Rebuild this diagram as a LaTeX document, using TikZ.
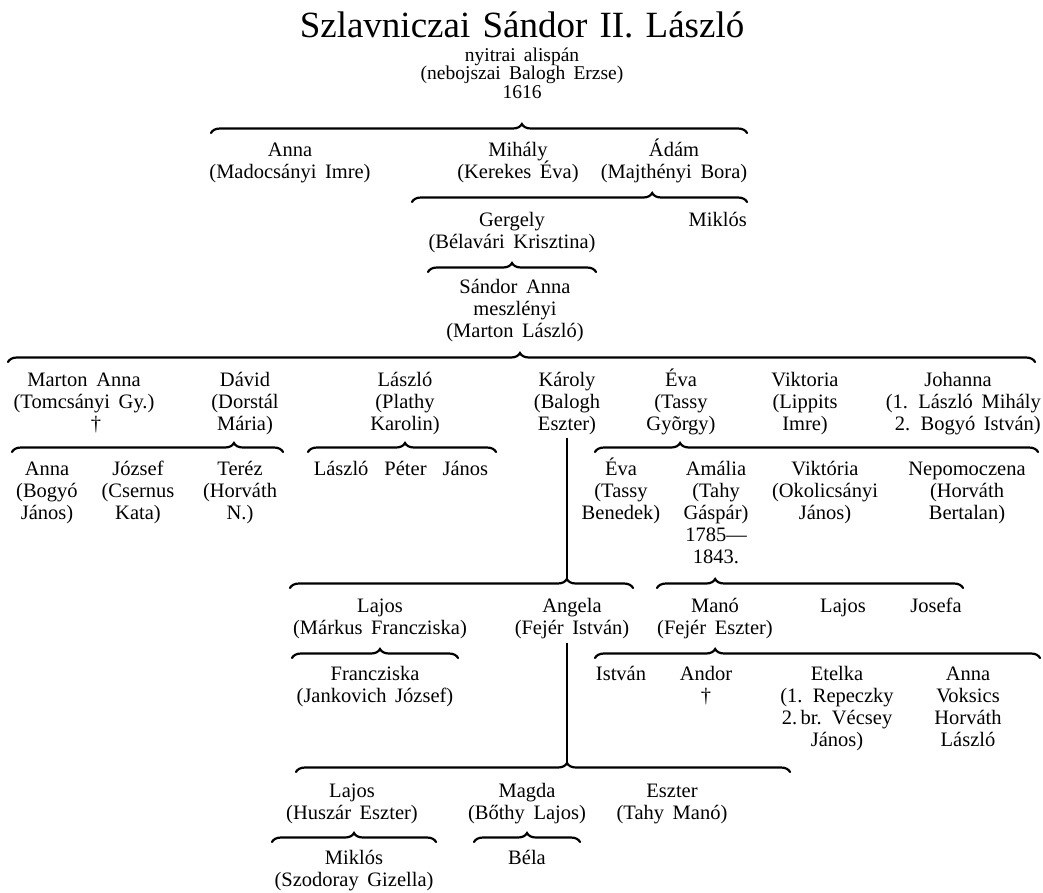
\documentclass[tikz,border=0pt]{standalone}
\usepackage{fontspec}
\setmainfont{Liberation Serif}
\usetikzlibrary{decorations.pathreplacing}
\newcommand\bodyfnt{\fontsize{20.5}{22}\selectfont\spaceskip=0.42em\relax}
\newcommand\subfnt{\fontsize{19.5}{18.5}\selectfont\spaceskip=0.42em\relax}
\newcommand\titlefnt{\fontsize{37}{40}\selectfont\spaceskip=0.33em\relax}
\newcommand\persn[1]{\vtop{\let\\\cr\lineskiplimit=-1000pt\lineskip=0pt\halign{\hfil##\hfil\cr#1\crcr}}}
\newcommand\persr[1]{\vtop{\let\\\cr\lineskiplimit=-1000pt\lineskip=0pt\halign{\hfil##\cr#1\crcr}}}
\tikzset{
  person/.style={inner sep=0pt, anchor=base, font=\bodyfnt},
  family/.style={decorate, decoration={brace, amplitude=9pt, aspect=#1}, line width=2.2pt, line cap=round},
  descent/.style={line width=1.1pt},
}
\begin{document}
\begin{tikzpicture}[x=1pt,y=-1pt]
\useasboundingbox[fill=white] (0,0) rectangle (1043,892);
% title
\node[person, font=\titlefnt] (title) at (522,37) {Szlavniczai Sándor II. László};
\node[person, font=\subfnt] (sub) at (522,61) {\persn{nyitrai alispán\\(nebojszai Balogh Erzse)\\1616}};
% brace A
\coordinate (a1) at (211,133); \coordinate (a2) at (747,133);
\draw[family=0.58] (a1) -- (a2);
% row 1
\node[person] (anna1) at (290,156) {\persn{Anna\\(Madocsányi Imre)}};
\node[person] (mihaly) at (518,156) {\persn{Mihály\\(Kerekes Éva)}};
\node[person] (adam) at (674,156) {\persn{Ádám\\(Majthényi Bora)}};
% brace B
\coordinate (b1) at (412,202); \coordinate (b2) at (747,202);
\draw[family=0.717] (b1) -- (b2);
% row 2
\node[person] (gergely) at (512,226) {\persn{Gergely\\(Bélavári Krisztina)}};
\node[person, anchor=base east] (miklos1) at (747,226) {Miklós};
% brace C
\coordinate (c1) at (428,272); \coordinate (c2) at (596,272);
\draw[family=0.5] (c1) -- (c2);
% row 3
\node[person] (sandor) at (515,293) {\persn{Sándor Anna\\meszlényi\\(Marton László)}};
% brace D
\coordinate (d1) at (8,362); \coordinate (d2) at (1035,362);
\draw[family=0.4985] (d1) -- (d2);
% row 4
\node[person] (marton) at (84,386) {\persn{Marton Anna\\(Tomcsányi Gy.)\\\hspace*{24pt}†}};
\node[person] (david) at (245,386) {\persn{Dávid\\(Dorstál\\Mária)}};
\node[person] (laszlo) at (405,386) {\persn{László\\(Plathy\\Karolin)}};
\node[person] (karoly) at (567,386) {\persn{Károly\\(Balogh\\Eszter)}};
\node[person] (eva1) at (681,386) {\persn{Éva\\(Tassy\\Gyõrgy)}};
\node[person] (viktoria1) at (805,386) {\persn{Viktoria\\(Lippits\\Imre)}};
\node[person] (johanna) at (958,386) {Johanna};
\node[person, anchor=base east] (johannasp) at (1041,408) {\persr{(1.\enspace László Mihály\\2.\enspace Bogyó István)}};
% braces E F G
\coordinate (e1) at (12,452); \coordinate (e2) at (283,452);
\draw[family=0.819] (e1) -- (e2);
\coordinate (f1) at (308,452); \coordinate (f2) at (496,452);
\draw[family=0.516] (f1) -- (f2);
\coordinate (g1) at (595,452); \coordinate (g2) at (1038,452);
\draw[family=0.192] (g1) -- (g2);
% row 5
\node[person] (anna2) at (47,475) {\persn{Anna\\(Bogyó\\János)}};
\node[person] (jozsef) at (138,475) {\persn{József\\(Csernus\\Kata)}};
\node[person] (terez) at (240,475) {\persn{Teréz\\(Horváth\\N.)}};
\node[person] (lpj) at (401,475) {László\hspace{16pt}Péter\hspace{16pt}János};
\node[person] (eva2) at (621,475) {\persn{Éva\\(Tassy\\Benedek)}};
\node[person] (amalia) at (716,475) {\persn{Amália\\(Tahy\\Gáspár)\\1785---\\1843.}};
\node[person] (viktoria2) at (825,475) {\persn{Viktória\\(Okolicsányi\\János)}};
\node[person] (nepo) at (967,475) {\persn{Nepomoczena\\(Horváth\\Bertalan)}};
% braces H I + descent from Karoly
\coordinate (h1) at (290,588); \coordinate (h2) at (633,588); \coordinate (htip) at (567,579);
\draw[family=0.807] (h1) -- (h2);
\coordinate (ktop) at (567,438);
\draw[descent] (ktop) -- (htip);
\coordinate (i1) at (657,588); \coordinate (i2) at (963,588);
\draw[family=0.19] (i1) -- (i2);
% row 6
\node[person] (lajos1) at (380,612) {\persn{Lajos\\(Márkus Francziska)}};
\node[person] (angela) at (572,612) {\persn{Angela\\(Fejér István)}};
\node[person] (mano) at (715,612) {\persn{Manó\\(Fejér Eszter)}};
\node[person] (lajos2) at (843,612) {Lajos};
\node[person] (josefa) at (936,612) {Josefa};
% braces J K
\coordinate (j1) at (292,658); \coordinate (j2) at (458,658);
\draw[family=0.53] (j1) -- (j2);
\coordinate (k1) at (595,658); \coordinate (k2) at (1040,658);
\draw[family=0.27] (k1) -- (k2);
% row 7
\node[person] (franc) at (375,680) {\persn{Francziska\\(Jankovich József)}};
\node[person] (istvan) at (621,680) {István};
\node[person] (andor) at (706,680) {\persn{Andor\\†}};
\node[person] (etelka) at (837,680) {\persn{Etelka\\(1. Repeczky\\2.\,br. Vécsey\\János)}};
\node[person] (anna3) at (968,680) {\persn{Anna\\Voksics\\Horváth\\László}};
% brace L + descent from Angela
\coordinate (l1) at (296,772); \coordinate (l2) at (790,772); \coordinate (ltip) at (567,763);
\draw[family=0.5486] (l1) -- (l2);
\coordinate (atop) at (567,643);
\draw[descent] (atop) -- (ltip);
% row 8
\node[person] (lajos3) at (352,797) {\persn{Lajos\\(Huszár Eszter)}};
\node[person] (magda) at (527,797) {\persn{Magda\\(Bőthy Lajos)}};
\node[person] (eszter) at (672,797) {\persn{Eszter\\(Tahy Manó)}};
% braces M N
\coordinate (m1) at (272,842); \coordinate (m2) at (436,842);
\draw[family=0.5] (m1) -- (m2);
\coordinate (n1) at (474,842); \coordinate (n2) at (580,842);
\draw[family=0.5] (n1) -- (n2);
% row 9
\node[person] (miklos2) at (354,864) {\persn{Miklós\\(Szodoray Gizella)}};
\node[person] (bela) at (527,864) {Béla};
\end{tikzpicture}
\end{document}
